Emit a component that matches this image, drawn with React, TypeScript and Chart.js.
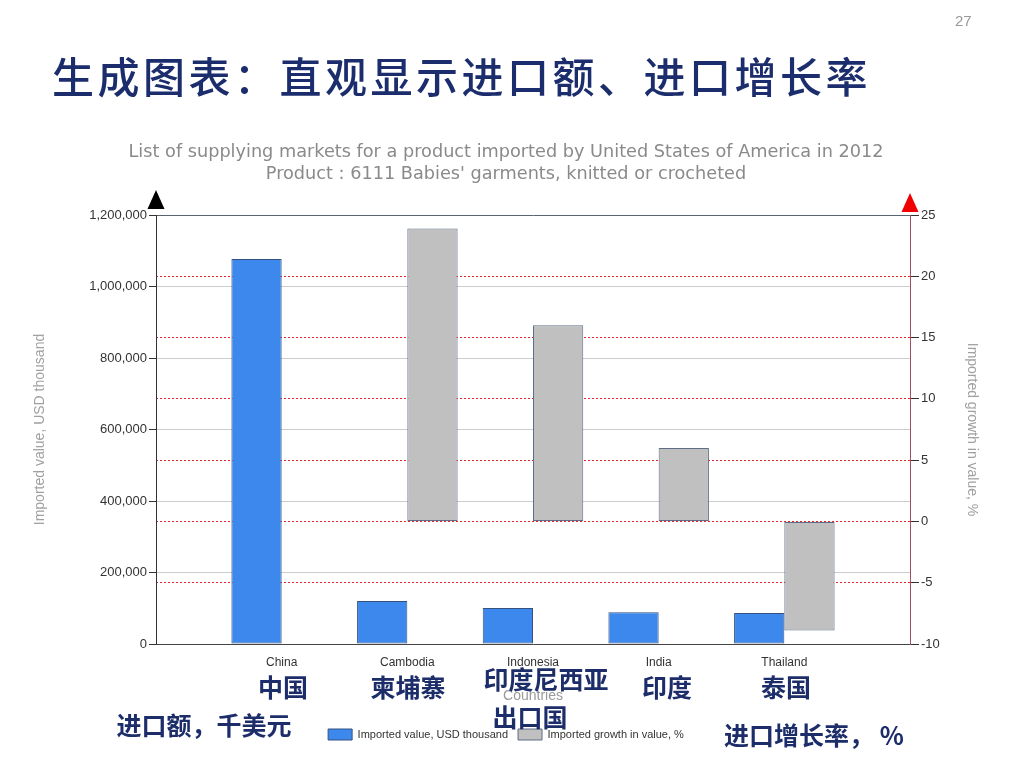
import React, { useEffect, useRef } from "react";
import { Chart, registerables } from "chart.js";

Chart.register(...registerables);

const categories = ["", "China", "Cambodia", "Indonesia", "India", "Thailand", ""];
const importedValue = [null, 1077000, 120000, 101000, 89000, 87000, null];
const growthValue = [null, null, 23.9, 16.0, 6.0, -8.9, null];
const chartTitle = [
  "List of supplying markets for a product imported by United States of America in 2012",
  "Product : 6111 Babies' garments, knitted or crocheted",
];
const seriesNames = ["Imported value, USD thousand", "Imported growth in value, %"];
const leftTitle = "Imported value, USD thousand";
const rightTitle = "Imported growth in value, %";
const xTitle = "Countries";

const slideTitle = "生成图表：直观显示进口额、进口增长率";
const cnNotes: { text: string; x: number; y: number }[] = [
  { text: "中国", x: 283, y: 686 },
  { text: "柬埔寨", x: 408, y: 686 },
  { text: "印度尼西亚", x: 546, y: 678 },
  { text: "印度", x: 667, y: 686 },
  { text: "泰国", x: 786, y: 686 },
  { text: "出口国", x: 530, y: 716 },
  { text: "进口额，千美元", x: 204, y: 724 },
  { text: "进口增长率， %", x: 814, y: 734 },
];

const arrowPlugin = {
  id: "axisArrows",
  afterDraw(chart: any) {
    const { ctx, chartArea } = chart;
    const draw = (x: number, apex: number, base: number, color: string) => {
      ctx.save();
      ctx.fillStyle = color;
      ctx.beginPath();
      ctx.moveTo(x, apex);
      ctx.lineTo(x - 8.5, base);
      ctx.lineTo(x + 8.5, base);
      ctx.closePath();
      ctx.fill();
      ctx.restore();
    };
    draw(chartArea.left, chartArea.top - 25, chartArea.top - 6, "#000");
    draw(chartArea.right, chartArea.top - 22, chartArea.top - 3, "#f00000");
  },
};

export default function App() {
  const ref = useRef<HTMLCanvasElement>(null);
  useEffect(() => {
    document.body.style.margin = "0";
    const chart = new Chart(ref.current!, {
      type: "bar",
      data: {
        labels: categories,
        datasets: [
          {
            label: seriesNames[0],
            data: importedValue as any,
            yAxisID: "y",
            backgroundColor: "#3d88ec",
            borderColor: "#35527e",
            borderWidth: 1,
            borderSkipped: false,
            categoryPercentage: 0.8,
            barPercentage: 1.0,
          },
          {
            label: seriesNames[1],
            data: growthValue as any,
            yAxisID: "y1",
            backgroundColor: "#c0c0c0",
            borderColor: "#5e6e86",
            borderWidth: 1,
            borderSkipped: false,
            categoryPercentage: 0.8,
            barPercentage: 1.0,
          },
        ],
      },
      options: {
        animation: false,
        responsive: false,
        maintainAspectRatio: false,
        layout: { padding: { left: 28, right: 40, top: 141, bottom: 18 } },
        plugins: {
          title: {
            display: true,
            text: chartTitle,
            color: "#8a8a8a",
            font: { family: "DejaVu Sans", size: 17.7, weight: "normal", lineHeight: 1.243 },
            padding: { top: 0, bottom: 30 },
          },
          legend: {
            position: "bottom",
            labels: {
              color: "#333",
              font: { family: "Liberation Sans", size: 11 },
              boxWidth: 24,
              boxHeight: 11,
              padding: 10,
            },
          },
          tooltip: { enabled: false },
        },
        scales: {
          x: {
            offset: false,
            grid: { display: false },
            border: { color: "#444", width: 1 },
            ticks: {
              color: "#333",
              font: { family: "Liberation Sans", size: 12 },
              autoSkip: false,
              maxRotation: 0,
              padding: 3,
            },
            title: {
              display: true,
              text: xTitle,
              color: "#999",
              font: { family: "Liberation Sans", size: 14 },
              padding: { top: 4, bottom: 14 },
            },
            afterFit(scale: any) {
              scale.height = 75;
            },
          },
          y: {
            position: "left",
            min: 0,
            max: 1200000,
            ticks: {
              stepSize: 200000,
              color: "#333",
              font: { family: "Liberation Sans", size: 13 },
              padding: 2,
              callback: (v: any) => Number(v).toLocaleString("en-US"),
            },
            grid: {
              color: (ctx: any) => {
                const v = ctx.tick?.value;
                if (v === 1200000) return "#5a6470";
                if (v === 0) return "rgba(0,0,0,0)";
                return "#cccccc";
              },
              tickColor: "#333",
              tickLength: 7,
            },
            border: { color: "#333", width: 1 },
            title: {
              display: true,
              text: leftTitle,
              color: "#a0a0a0",
              font: { family: "Liberation Sans", size: 14 },
              padding: { top: 4, bottom: 4 },
            },
            afterFit(scale: any) {
              scale.width = 128;
            },
          },
          y1: {
            position: "right",
            min: -10,
            max: 25,
            ticks: {
              stepSize: 5,
              color: "#333",
              font: { family: "Liberation Sans", size: 13 },
              padding: 2,
            },
            grid: {
              color: (ctx: any) => {
                const v = ctx.tick?.value;
                if (v === 25 || v === -10) return "rgba(0,0,0,0)";
                return "#e8202a";
              },
              tickColor: "#333",
              tickLength: 9,
            },
            border: { color: "#a0505c", width: 1, dash: [2, 2] },
            title: {
              display: true,
              text: rightTitle,
              color: "#a0a0a0",
              font: { family: "Liberation Sans", size: 14 },
              padding: { top: 4, bottom: 4 },
            },
            afterFit(scale: any) {
              scale.width = 74;
            },
          },
        },
      } as any,
      plugins: [arrowPlugin],
    });
    return () => chart.destroy();
  }, []);

  const cnStyle: React.CSSProperties = {
    position: "absolute",
    fontFamily: "'Noto Sans CJK SC', sans-serif",
    fontWeight: 700,
    fontSize: 25,
    lineHeight: "25px",
    color: "#1c2d6a",
    whiteSpace: "nowrap",
    transform: "translate(-50%, -50%)",
  };

  return (
    <div style={{ position: "absolute", left: 0, top: 0, width: 1024, height: 768, background: "#fff", overflow: "hidden" }}>
      <canvas ref={ref} width={1024} height={768} style={{ position: "absolute", left: 0, top: 0, width: 1024, height: 768 }} />
      <div
        style={{
          position: "absolute",
          left: 52,
          top: 54,
          fontFamily: "'Noto Sans CJK SC', sans-serif",
          fontSize: 42,
          fontWeight: 500,
          lineHeight: "42px",
          letterSpacing: 3.5,
          color: "#1b2d6c",
          whiteSpace: "nowrap",
        }}
      >
        {slideTitle}
      </div>
      <div
        style={{
          position: "absolute",
          left: 955,
          top: 12,
          fontFamily: "'Liberation Sans', sans-serif",
          fontSize: 15,
          color: "#999",
        }}
      >
        27
      </div>
      {cnNotes.map((n, i) => (
        <div key={i} style={{ ...cnStyle, left: n.x, top: n.y }}>
          {n.text}
        </div>
      ))}
    </div>
  );
}
